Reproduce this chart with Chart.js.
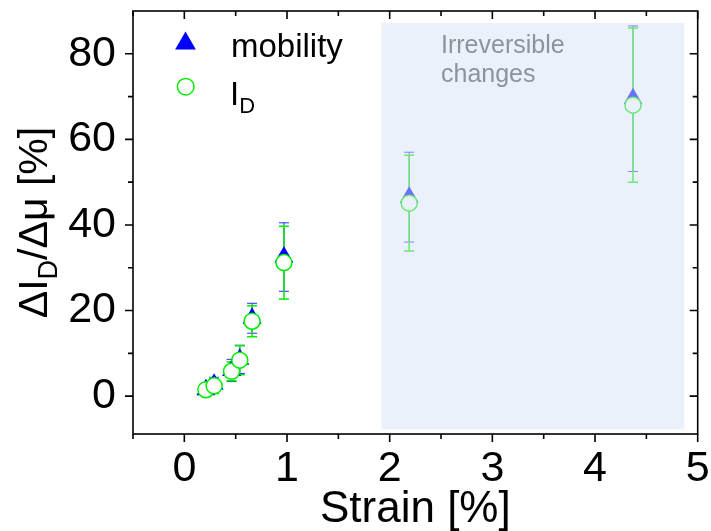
<!DOCTYPE html>
<html>
<head>
<meta charset="utf-8">
<script src="https://cdn.jsdelivr.net/npm/chart.js@4.4.1/dist/chart.umd.min.js"></script>
<style>
  html, body { margin: 0; padding: 0; background: #fff; }
  #wrap { width: 711px; height: 531px; }
</style>
</head>
<body>
<div id="wrap"><canvas id="strainChart" width="711" height="531"></canvas></div>
<script>
// strain steps and relative changes (%)
const strain = [0.21, 0.29, 0.46, 0.54, 0.66, 0.97, 2.19, 4.37];
const mobility = [1.5, 2.8, 6.0, 8.6, 18.2, 32.5, 46.5, 69.5];
const mobilityErr = [1.5, 1.6, 2.6, 3.3, 3.5, 8.0, 10.5, 17.0];
const current = [1.5, 2.4, 5.8, 8.4, 17.5, 31.2, 45.1, 68.0];
const currentErr = [1.3, 1.8, 2.2, 3.4, 3.6, 8.5, 11.2, 18.0];

const xMajor = [0, 1, 2, 3, 4, 5];
const xMinor = [-0.5, 0.5, 1.5, 2.5, 3.5, 4.5];
const yMajor = [0, 20, 40, 60, 80];
const yMinor = [10, 30, 50, 70];

// irreversible zone, in data units
const zoneX = [1.92, 4.87];
const zoneY = [-7.8, 87.2];

const FONT = "Arial, 'Liberation Sans', sans-serif";

function drawErrorBars(chart, ys, errs, color, width) {
    const { ctx, scales: { x, y } } = chart;
    ctx.save();
    ctx.strokeStyle = color;
    ctx.lineWidth = width;
    strain.forEach((v, i) => {
        const px = x.getPixelForValue(v);
        const top = y.getPixelForValue(ys[i] + errs[i]);
        const bot = y.getPixelForValue(ys[i] - errs[i]);
        ctx.beginPath();
        ctx.moveTo(px, top);
        ctx.lineTo(px, bot);
        ctx.moveTo(px - 5, top);
        ctx.lineTo(px + 5, top);
        ctx.moveTo(px - 5, bot);
        ctx.lineTo(px + 5, bot);
        ctx.stroke();
    });
    ctx.restore();
}

const errorBars = {
    id: "errorBars",
    beforeDatasetsDraw(chart) {
        drawErrorBars(chart, mobility, mobilityErr, "#2a2aff", 1);
        drawErrorBars(chart, current, currentErr, "#00ee00", 1.5);
    },
};

const zone = {
    id: "zone",
    afterDatasetsDraw(chart) {
        const { ctx, scales: { x, y } } = chart;
        const x0 = x.getPixelForValue(zoneX[0]);
        const x1 = x.getPixelForValue(zoneX[1]);
        const y0 = y.getPixelForValue(zoneY[1]);
        const y1 = y.getPixelForValue(zoneY[0]);
        ctx.save();
        ctx.fillStyle = "rgba(213, 227, 245, 0.5)";
        ctx.fillRect(x0, y0, x1 - x0, y1 - y0);
        ctx.fillStyle = "#8e939b";
        ctx.font = "25px " + FONT;
        ctx.textBaseline = "alphabetic";
        ctx.fillText("Irreversible", 441, 53);
        ctx.fillText("changes", 441, 82);
        ctx.restore();
    },
};

const frame = {
    id: "frame",
    afterDraw(chart) {
        const { ctx, chartArea: a, scales: { x, y } } = chart;
        ctx.save();
        ctx.strokeStyle = "#000";
        ctx.lineWidth = 1.6;
        ctx.strokeRect(a.left, a.top, a.right - a.left, a.bottom - a.top);
        ctx.beginPath();
        const xt = (list, len) => list.forEach((v) => {
            const px = x.getPixelForValue(v);
            ctx.moveTo(px, a.bottom);
            ctx.lineTo(px, a.bottom + len);
            ctx.moveTo(px, a.top);
            ctx.lineTo(px, a.top + len);
        });
        const yt = (list, len) => list.forEach((v) => {
            const py = y.getPixelForValue(v);
            ctx.moveTo(a.left, py);
            ctx.lineTo(a.left - len, py);
            ctx.moveTo(a.right, py);
            ctx.lineTo(a.right - len, py);
        });
        xt(xMajor, 8);
        xt(xMinor, 5);
        yt(yMajor, 8);
        yt(yMinor, 5);
        ctx.stroke();

        // axis titles
        ctx.fillStyle = "#000";
        ctx.textBaseline = "alphabetic";
        ctx.font = "44px " + FONT;
        ctx.textAlign = "center";
        ctx.fillText("Strain [%]", (a.left + a.right) / 2, 522);

        ctx.save();
        ctx.translate(47, (a.top + a.bottom) / 2);
        ctx.rotate(-Math.PI / 2);
        ctx.textAlign = "left";
        const big = "41px " + FONT, small = "27px " + FONT;
        ctx.font = big;
        const w1 = ctx.measureText("\u0394I").width;
        const w3 = ctx.measureText("/\u0394\u03bc [%]").width;
        ctx.font = small;
        const w2 = ctx.measureText("D").width;
        let cx = -(w1 + w2 + w3) / 2;
        ctx.font = big;
        ctx.fillText("\u0394I", cx, 0);
        cx += w1;
        ctx.font = small;
        ctx.fillText("D", cx, 10);
        cx += w2;
        ctx.font = big;
        ctx.fillText("/\u0394\u03bc [%]", cx, 0);
        ctx.restore();

        // legend
        ctx.fillStyle = "#0000ff";
        Chart.helpers.drawPoint(ctx, { pointStyle: "triangle", radius: 12, rotation: 0, borderWidth: 0 }, 185.5, 43.5);
        ctx.fillStyle = "#fff";
        ctx.strokeStyle = "#00ee00";
        ctx.lineWidth = 1.5;
        Chart.helpers.drawPoint(ctx, { pointStyle: "circle", radius: 8.3, rotation: 0, borderWidth: 1.5 }, 185.7, 86.7);
        ctx.fillStyle = "#000";
        ctx.textAlign = "left";
        ctx.font = "33px " + FONT;
        ctx.fillText("mobility", 231, 57);
        ctx.fillText("I", 230, 105);
        const wi = ctx.measureText("I").width;
        ctx.font = "22px " + FONT;
        ctx.fillText("D", 230 + wi, 113);
        ctx.restore();
    },
};

const points = (ys) => strain.map((v, i) => ({ x: v, y: ys[i] }));

new Chart(document.getElementById("strainChart"), {
    type: "scatter",
    data: {
        datasets: [
            {
                label: "mobility",
                data: points(mobility),
                pointStyle: "triangle",
                pointRadius: 11,
                backgroundColor: "#0000ff",
                borderWidth: 0,
                order: 2,
            },
            {
                label: "I_D",
                data: points(current),
                pointStyle: "circle",
                pointRadius: 8,
                backgroundColor: "#ffffff",
                borderColor: "#00ee00",
                borderWidth: 1.5,
                order: 1,
            },
        ],
    },
    options: {
        responsive: false,
        animation: false,
        events: [],
        layout: { padding: { left: 0, right: 13.3, top: 10, bottom: 0 } },
        plugins: { legend: { display: false }, tooltip: { enabled: false } },
        scales: {
            x: {
                type: "linear",
                min: -0.5,
                max: 5,
                afterBuildTicks: (s) => { s.ticks = xMajor.map((v) => ({ value: v })); },
                afterFit: (s) => { s.height = 97; s.paddingLeft = 0; s.paddingRight = 0; },
                ticks: { color: "#000", font: { size: 43, family: FONT }, padding: 9, maxRotation: 0, autoSkip: false },
                grid: { display: false, drawTicks: false },
                border: { display: false },
            },
            y: {
                min: -8.85,
                max: 90,
                afterBuildTicks: (s) => { s.ticks = yMajor.map((v) => ({ value: v })); },
                afterFit: (s) => { s.width = 133; s.paddingTop = 0; s.paddingBottom = 0; },
                ticks: { color: "#000", font: { size: 43, family: FONT }, padding: 17, autoSkip: false },
                grid: { display: false, drawTicks: false },
                border: { display: false },
            },
        },
    },
    plugins: [errorBars, zone, frame],
});
</script>
</body>
</html>
